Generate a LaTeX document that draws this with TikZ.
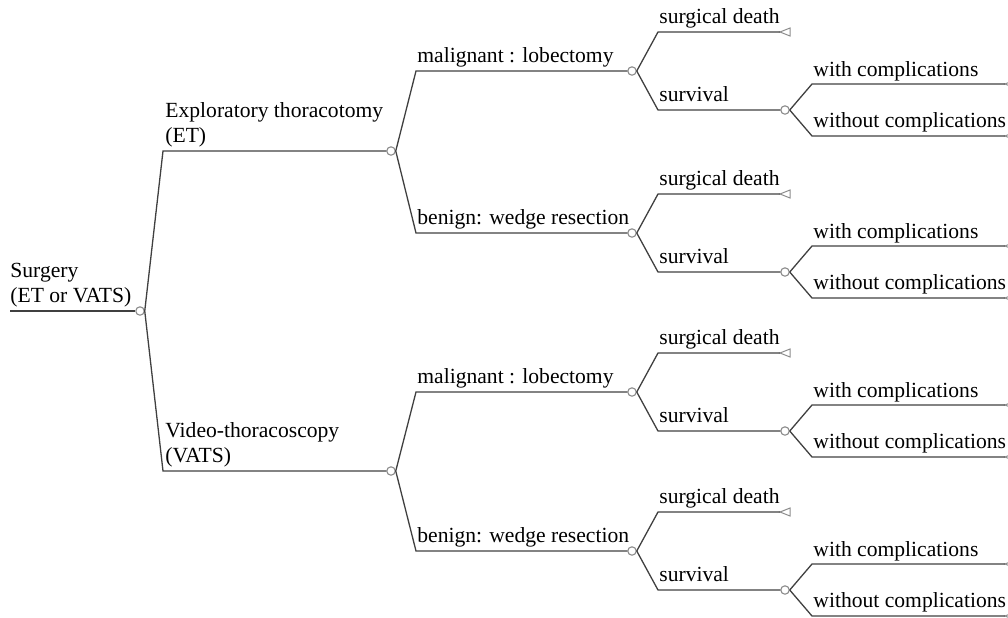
\documentclass[tikz,border=0pt]{standalone}
\usepackage{fontspec}
\setmainfont{Liberation Serif}
\definecolor{linegray}{HTML}{404040}
\definecolor{circgray}{HTML}{8C8C8C}
\begin{document}
\begin{tikzpicture}[x=0.5pt,y=-0.5pt,
  ln/.style={draw=linegray, line width=0.65pt},
  chance/.style={circle, draw=circgray, fill=white, line width=0.55pt, minimum size=4.2pt, inner sep=0pt},
  termtri/.style={draw=circgray, fill=white, line width=0.5pt},
  lab/.style={anchor=base west, inner sep=0pt, font=\fontsize{10.8}{12.5}\selectfont},
  lab2/.style={anchor=south west, inner sep=0pt, align=left, font=\fontsize{10.8}{12.5}\selectfont}]
\useasboundingbox (0,0) rectangle (1008,617);

% root
\coordinate (r0) at (10,311);
\node[chance] (c0) at (140,311) {};
\draw[ln] (r0) -- (c0.west);
\node[lab2] (t0) at (10,307) {Surgery\\(ET or VATS)};

% level 1
\foreach \i/\y/\txt in {1/151/{Exploratory thoracotomy\\(ET)}, 2/471/{Video-thoracoscopy\\(VATS)}}{
  \coordinate (a\i) at (163,\y);
  \node[chance] (c\i) at (391,\y) {};
  \draw[ln] (c0.east) -- (a\i) -- (c\i.west);
  \node[lab2] (t\i) at (165,\y-4) {\txt};
}

% level 2
\foreach \p/\i/\y/\txt in {1/11/71/{malignant : lobectomy}, 1/12/233/{benign: wedge resection},
                           2/21/392/{malignant : lobectomy}, 2/22/551/{benign: wedge resection}}{
  \coordinate (a\i) at (416,\y);
  \node[chance] (c\i) at (632,\y) {};
  \draw[ln] (c\p.east) -- (a\i) -- (c\i.west);
  \node[lab] (t\i) at (417,\y-9) {\txt};
  % surgical death
  \coordinate (d\i) at (658,\y-39);
  \coordinate (e\i) at (780,\y-39);
  \draw[termtri] (e\i) -- ++(10,-4) -- ++(0,8) -- cycle;
  \draw[ln] (c\i.east) -- (d\i) -- (e\i);
  \node[lab] (td\i) at (659,\y-48) {surgical death};
  % survival
  \coordinate (s\i) at (658,\y+39);
  \node[chance] (cs\i) at (785,\y+39) {};
  \draw[ln] (c\i.east) -- (s\i) -- (cs\i.west);
  \node[lab] (ts\i) at (659,\y+30) {survival};
  % with complications
  \coordinate (w\i) at (812,\y+13);
  \coordinate (we\i) at (1005,\y+13);
  \draw[termtri] (we\i) -- ++(10,-4) -- ++(0,8) -- cycle;
  \draw[ln] (cs\i.east) -- (w\i) -- (we\i);
  \node[lab] (tw\i) at (813,\y+5) {with complications};
  % without complications
  \coordinate (o\i) at (812,\y+65);
  \coordinate (oe\i) at (1005,\y+65);
  \draw[termtri] (oe\i) -- ++(10,-4) -- ++(0,8) -- cycle;
  \draw[ln] (cs\i.east) -- (o\i) -- (oe\i);
  \node[lab] (to\i) at (813,\y+56) {without complications};
}
\end{tikzpicture}
\end{document}
